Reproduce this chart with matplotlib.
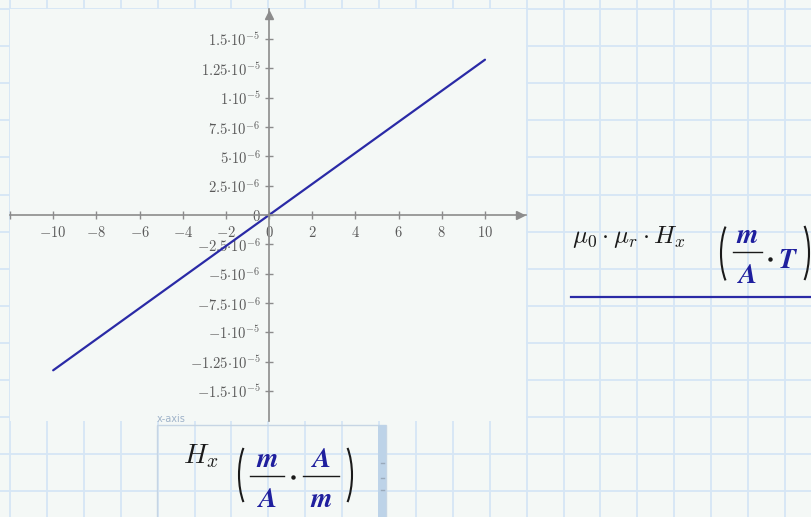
import numpy as np
import matplotlib
matplotlib.use("Agg")
import matplotlib.pyplot as plt
from matplotlib.patches import Rectangle, Arc

plt.rcParams['mathtext.fontset'] = 'cm'

W, H = 811, 517
PAPER = '#f4f8f6'
GRID = '#d6e6f5'
AXIS = '#8c8c8c'
TICKTXT = '#5a5a5a'
BLUE = '#2a2aa6'
UNIT_BLUE = '#1f1f9e'
INK = '#1a1a1a'

# --- data: H field (A/m) against flux density mu0*mur*H (T) ---
hx = [-10, 10]
b_field = [-1.325e-5, 1.325e-5]

xticks = [-10, -8, -6, -4, -2, 0, 2, 4, 6, 8, 10]
xtick_labels = [r'$-10$', r'$-8$', r'$-6$', r'$-4$', r'$-2$', r'$0$',
                r'$2$', r'$4$', r'$6$', r'$8$', r'$10$']
yticks = [-1.5e-5, -1.25e-5, -1e-5, -7.5e-6, -5e-6, -2.5e-6, 0,
          2.5e-6, 5e-6, 7.5e-6, 1e-5, 1.25e-5, 1.5e-5]
ytick_labels = [r'$-1.5{\cdot}10^{-5}$', r'$-1.25{\cdot}10^{-5}$', r'$-1{\cdot}10^{-5}$',
                r'$-7.5{\cdot}10^{-6}$', r'$-5{\cdot}10^{-6}$', r'$-2.5{\cdot}10^{-6}$',
                r'$0$',
                r'$2.5{\cdot}10^{-6}$', r'$5{\cdot}10^{-6}$', r'$7.5{\cdot}10^{-6}$',
                r'$1{\cdot}10^{-5}$', r'$1.25{\cdot}10^{-5}$', r'$1.5{\cdot}10^{-5}$']

y_label = r'$\mu_0\cdot\mu_r\cdot H_x$'
x_label = r'$H_x$'
U_M = r'$\mathbfit{m}$'
U_A = r'$\mathbfit{A}$'
U_T = r'$\mathbfit{T}$'


def px_box(x0, y0, x1, y1):
    # pixel box (top-left origin) -> figure fraction rect
    return [x0 / W, 1 - y1 / H, (x1 - x0) / W, (y1 - y0) / H]


fig = plt.figure(figsize=(W / 100, H / 100), dpi=100, facecolor=PAPER)

# worksheet grid behind everything
bg = fig.add_axes([0, 0, 1, 1], zorder=0)
bg.set_xlim(0, W)
bg.set_ylim(H, 0)
bg.axis('off')
for gx in np.arange(10, W, 36.9):
    bg.axvline(gx, color=GRID, lw=1.3)
for gy in np.arange(9, H, 37.1):
    bg.axhline(gy, color=GRID, lw=1.3)

# --- the plot region ---
ax = fig.add_axes(px_box(10, 9, 526, 421), zorder=2)
ax.set_facecolor(PAPER)
ax.plot(hx, b_field, color=BLUE, lw=1.6, solid_capstyle='round')
ax.set_xlim(-11.99, 11.9)
ax.set_ylim(-1.7576e-5, 1.7576e-5)

ax.spines[['top', 'right']].set_visible(False)
for side in ['left', 'bottom']:
    ax.spines[side].set_position(('data', 0))
    ax.spines[side].set_color(AXIS)
    ax.spines[side].set_linewidth(1.2)

ax.set_xticks(xticks, xtick_labels)
ax.set_xticks([-12], minor=True)
ax.set_yticks(yticks, ytick_labels)
ax.tick_params(which='both', direction='inout', length=6, width=1,
               color=AXIS, labelcolor=TICKTXT, labelsize=10.5)
ax.tick_params(axis='x', pad=4)
ax.tick_params(axis='y', pad=3)

# arrow heads on the axes
ax.plot([0.988], [0], marker='>', ms=6, color=AXIS,
        transform=ax.get_yaxis_transform(), clip_on=False)
ax.plot([0], [0.9854], marker='^', ms=6, color=AXIS,
        transform=ax.get_xaxis_transform(), clip_on=False)

# --- labels, legend line and x-axis box (pixel coordinates) ---
ov = fig.add_axes([0, 0, 1, 1], zorder=5)
ov.set_xlim(0, W)
ov.set_ylim(H, 0)
ov.axis('off')


def paren(x_outer, y_top, y_bot, side, bulge=10, th=62):
    # tall bracket drawn as a thin elliptical arc
    hh = (y_bot - y_top) / 2
    b = hh / np.sin(np.radians(th))
    a = bulge / (1 - np.cos(np.radians(th)))
    yc = (y_top + y_bot) / 2
    if side == 'left':
        arc = Arc((x_outer + a, yc), 2 * a, 2 * b, theta1=180 - th, theta2=180 + th,
                  color=INK, lw=1.5)
    else:
        arc = Arc((x_outer - a, yc), 2 * a, 2 * b, theta1=-th, theta2=th,
                  color=INK, lw=1.5)
    ov.add_patch(arc)


def unit_frac(cx, y_bar, num, den, half_w, size=20):
    ov.plot([cx - half_w, cx + half_w], [y_bar, y_bar], color=INK, lw=1.0)
    ov.text(cx, y_bar - 9, num, ha='center', va='baseline', fontsize=size, color=UNIT_BLUE)
    ov.text(cx, y_bar + 31, den, ha='center', va='baseline', fontsize=size, color=UNIT_BLUE)


def dot(x, y):
    ov.plot([x], [y], marker='o', ms=3.2, color=INK, mec='none')


ov.text(157, 422, 'x-axis', fontsize=7, color='#9fb3c9', va='baseline')
ov.add_patch(Rectangle((157, 425), 229, 100, fill=False, ec='#c6d5e4', lw=1))
ov.add_patch(Rectangle((378, 425), 8, 100, fc='#bdd3e8', ec='none'))
for gy in [463, 478, 490]:
    ov.plot([380.5, 383.5], [gy, gy], color='#9aaabb', lw=1)

# y-axis expression with units, and its trace line
ov.text(572, 243, y_label, fontsize=18, va='baseline', color=INK)
paren(721, 217, 290, 'left')
unit_frac(747, 252, U_M, U_A, 14.5)
dot(770, 259)
ov.text(778, 268, U_T, ha='left', va='baseline', fontsize=20, color=UNIT_BLUE)
paren(809, 216, 290, 'right')
ov.plot([571, 811], [297, 297], color=BLUE, lw=1.6)

# x-axis expression with units
ov.text(183, 463, x_label, fontsize=20, va='baseline', color=INK)
paren(239, 438, 512, 'left')
unit_frac(267, 476, U_M, U_A, 17)
dot(293, 477)
unit_frac(321, 476, U_A, U_M, 18)
paren(352, 438, 512, 'right')

fig.savefig('out.png', dpi=100, facecolor=PAPER)
